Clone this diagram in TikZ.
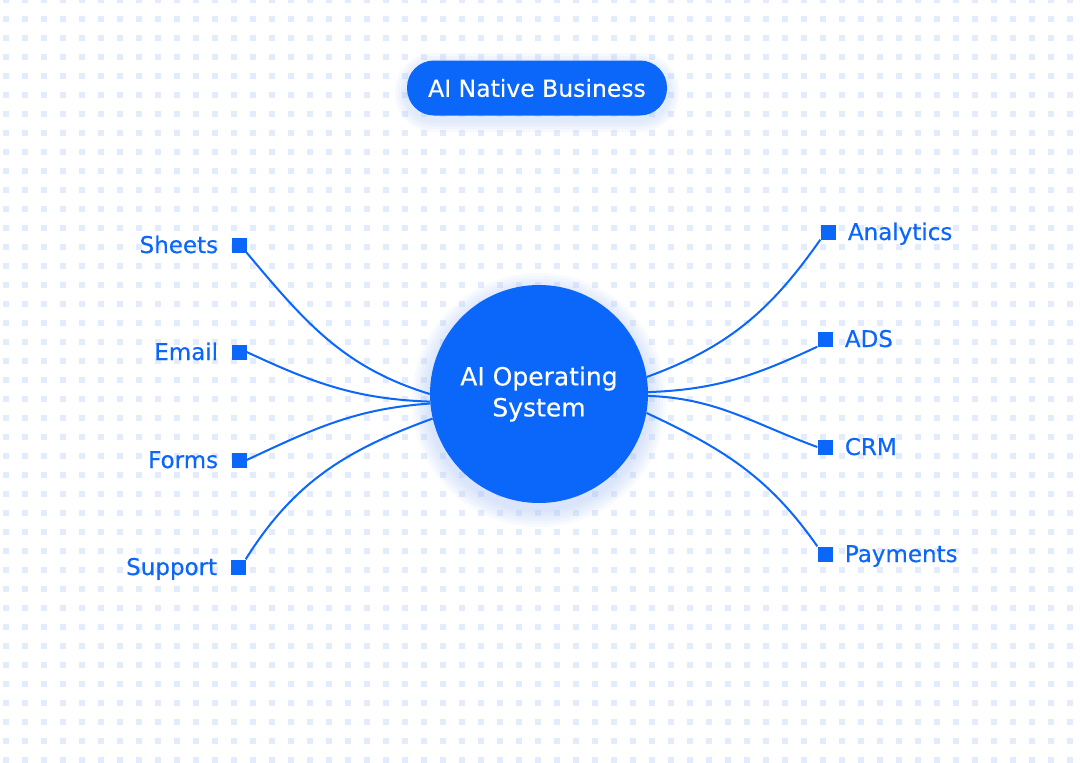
\documentclass[tikz,border=0pt]{standalone}
\usepackage{fontspec}
\setmainfont{DejaVu Sans}
\newfontfamily\medfont[FakeBold=0.35]{DejaVu Sans}
\usetikzlibrary{positioning,calc}
\definecolor{brand}{HTML}{0B66FA}
\definecolor{dotblue}{HTML}{E3ECFC}
\definecolor{glow}{HTML}{9DBEFB}

\begin{document}
\begin{tikzpicture}[
  x=1pt, y=-1pt,
  hub/.style={circle, fill=brand, minimum size=218pt, inner sep=0pt, text=white, align=center, font=\medfont\fontsize{25}{31}\selectfont},
  pill/.style={fill=brand, rounded corners=27pt, minimum width=260pt, minimum height=55pt, inner sep=0pt, text=white, font=\medfont\fontsize{23.5}{28}\selectfont},
  port/.style={rectangle, fill=brand, minimum size=15pt, inner sep=0pt},
  lbl/.style={text=brand, inner sep=0pt, font=\medfont\fontsize{23}{28}\selectfont},
  link/.style={brand, line width=2pt}
]
\useasboundingbox (0,0) rectangle (1080,763);
\fill[white] (0,0) rectangle (1080,763);

% dot grid
\begin{scope}
\clip (0,0) rectangle (1080,763);
\foreach \i in {0,...,56}
  \foreach \j in {0,...,40}
    \fill[dotblue] ({2.5+19*\i},{-3.5+19*\j}) rectangle +(6,6);
\end{scope}

% soft glow
\coordinate (c) at (539,394);
\foreach \r in {3,6,9,12,15,18}
  \fill[glow, opacity=0.07] ($(c)+(0,6)$) circle ({109+\r});
\foreach \r in {3,6,9,12}
  \fill[glow, opacity=0.08, rounded corners={27+\r}] ({407-\r},{60-\r+5}) rectangle ({667+\r},{115+\r+5});

\node[pill] (top) at (537,88) {AI Native Business};
\node[hub] (hub) at (c) {AI Operating\\System};

% left ports
\node[port] (s1) at (239,245) {};
\node[port] (s2) at (239,352) {};
\node[port] (s3) at (239,460) {};
\node[port] (s4) at (238,567) {};
\node[lbl, left=13pt of s1.west, anchor=base east, yshift=-8pt] (sheets) {Sheets};
\node[lbl, left=13pt of s2.west, anchor=base east, yshift=-8pt] (email) {Email};
\node[lbl, left=13pt of s3.west, anchor=base east, yshift=-8pt] (forms) {Forms};
\node[lbl, left=13pt of s4.west, anchor=base east, yshift=-8pt] (support) {Support};

% right ports
\node[port] (a1) at (828,232) {};
\node[port] (a2) at (825,339) {};
\node[port] (a3) at (825,447) {};
\node[port] (a4) at (825,554) {};
\node[lbl, right=12pt of a1.east, anchor=base west, yshift=-8pt] (analytics) {Analytics};
\node[lbl, right=12pt of a2.east, anchor=base west, yshift=-8pt] (ads) {ADS};
\node[lbl, right=12pt of a3.east, anchor=base west, yshift=-8pt] (crm) {CRM};
\node[lbl, right=12pt of a4.east, anchor=base west, yshift=-8pt] (payments) {Payments};

\draw[link] (s1.south east) to[out=-50, in=163] (hub.180);
\draw[link] (s2.east) to[out=-25, in=178] (hub.184);
\draw[link] (s3.east) to[out=25, in=184] (hub.185);
\draw[link] (s4.north east) to[out=58, in=200] (hub.193);
\draw[link] (a1.south west) to[out=235, in=20] (hub.9);
\draw[link] (a2.south west) to[out=205, in=2] (hub.1);
\draw[link] (a3.west) to[out=160, in=-2] (hub.359);
\draw[link] (a4.north west) to[out=125, in=-25] (hub.350);
\end{tikzpicture}
\end{document}
